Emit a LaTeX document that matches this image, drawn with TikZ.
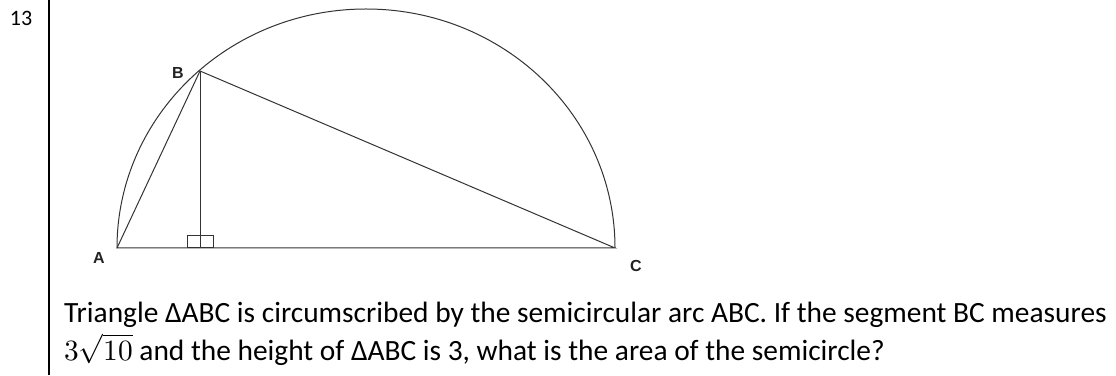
\documentclass[tikz,border=0pt]{standalone}
\usepackage{fontspec}
\usepackage{unicode-math}
\setmainfont{Carlito}
\setmathfont{Latin Modern Math}
\newfontfamily\labfont{Liberation Sans}
\usetikzlibrary{calc}
\definecolor{ink}{HTML}{333333}
\definecolor{labelcolor}{HTML}{222222}

\begin{document}
\begin{tikzpicture}[x=1pt, y=1pt,
    every node/.style={inner sep=0pt},
    edge/.style={draw=ink, line width=1pt},
    frame/.style={draw=black, line width=2pt},
    lab/.style={font=\labfont\bfseries\fontsize{16}{16}\selectfont, text=labelcolor},
    num/.style={font=\fontsize{22}{26}\selectfont},
    txt/.style={font=\fontsize{29.4}{35}\selectfont, anchor=base west},
]
\useasboundingbox (0,0) rectangle (1116,375);
\draw[frame] (49,0) -- (49,375);
\node[num] (qno) at (21,357) {13};

% semicircle on AC, centre O
\coordinate (O) at (366,127);
\coordinate (A) at (117,127);
\coordinate (C) at (615,127);
\coordinate (B) at (200,304);
\coordinate (D) at (200,127);

\draw[edge] (C) arc[start angle=0, end angle=180, x radius=249pt, y radius=239pt];
\draw[edge] (A) -- (B) -- (C) -- cycle;
\draw[edge] (B) -- (D);
\draw[edge] ($(D)+(-13,0)$) rectangle ($(D)+(13,12)$);

\node[lab] (la) at (99,117) {A};
\node[lab] (lb) at (178,302) {B};
\node[lab] (lc) at (636,109) {C};

\node[txt] (q1) at (64,53)
    {Triangle ΔABC is circumscribed by the semicircular arc ABC. If the segment BC measures};
\node[txt] (q2) at (64,15)
    {$3\sqrt{10}$ and the height of ΔABC is 3, what is the area of the semicircle?};
\end{tikzpicture}
\end{document}
